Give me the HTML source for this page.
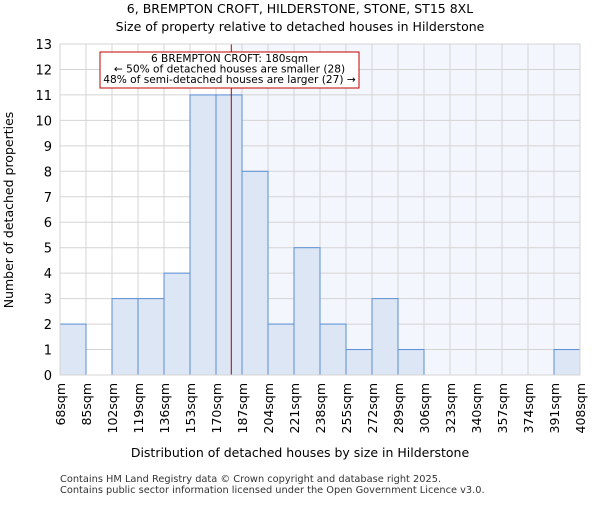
<!DOCTYPE html>
<html><head><meta charset="utf-8"><style>body{margin:0;background:#fff}svg{font-family:"DejaVu Sans","Liberation Sans",sans-serif}</style></head>
<body>
<svg id="chart" width="600" height="500" xmlns="http://www.w3.org/2000/svg">
<text x="300" y="13" text-anchor="middle" font-size="12.5">6, BREMPTON CROFT, HILDERSTONE, STONE, ST15 8XL</text>
<text x="300" y="31" text-anchor="middle" font-size="12.5">Size of property relative to detached houses in Hilderstone</text>
<g id="plot"></g>
<text x="300" y="457" text-anchor="middle" font-size="12.5">Distribution of detached houses by size in Hilderstone</text>
<text transform="translate(13,210) rotate(-90)" text-anchor="middle" font-size="12.5">Number of detached properties</text>
<text x="60" y="482" font-size="9.8" fill="#333">Contains HM Land Registry data © Crown copyright and database right 2025.</text>
<text x="60" y="493" font-size="9.8" fill="#333">Contains public sector information licensed under the Open Government Licence v3.0.</text>
</svg>
<script>
const binEdges=[68,85,102,119,136,153,170,187,204,221,238,255,272,289,306,323,340,357,374,391,408];
const counts=[2,0,3,3,4,11,11,8,2,5,2,1,3,1,0,0,0,0,0,1];
const yTicks=[0,1,2,3,4,5,6,7,8,9,10,11,12,13];
const markerValue=180;
const NS="http://www.w3.org/2000/svg";
const L=60,R=580,T=44,B=375;
const x=v=>L+(v-68)/(408-68)*(R-L);
const y=v=>B-v/13*(B-T);
const g=document.getElementById('plot');
function mk(t,a){const e=document.createElementNS(NS,t);for(const k in a)e.setAttribute(k,a[k]);g.appendChild(e);return e;}
let e;
e=mk('rect',{x:L,y:T,width:R-L,height:B-T,fill:'#fff'});


e=mk('rect',{x:x(markerValue),y:T,width:R-x(markerValue),height:B-T,fill:'#f3f6fd'});


yTicks.forEach(t=>{
 e=mk('line',{x1:L,x2:R,y1:y(t),y2:y(t),stroke:'#d4d4d4','stroke-width':1});
 
 
 e=mk('text',{x:L-8,y:y(t)+5,'text-anchor':'end','font-size':13});
 e.textContent=t;
 
 
});
binEdges.forEach(b=>{
 e=mk('line',{x1:x(b),x2:x(b),y1:T,y2:B,stroke:'#d4d4d4','stroke-width':1});
 
 
 e=mk('text',{transform:`translate(${x(b)+5},${B+8}) rotate(-90)`,'text-anchor':'end','font-size':12.5});
 e.textContent=b+'sqm';
 
 
});
counts.forEach((c,i)=>{
 if(!c)return;
 e=mk('rect',{x:x(binEdges[i]),y:y(c),width:x(binEdges[i+1])-x(binEdges[i]),height:B-y(c),fill:'#dce6f5',stroke:'#5b8fd4','stroke-width':1});
 
 
});
e=mk('line',{x1:x(markerValue),x2:x(markerValue),y1:T,y2:B,stroke:'#b00000','stroke-width':1});


e=mk('rect',{x:100,y:52,width:259,height:36,fill:'#fff',stroke:'#c00000','stroke-width':1});


["6 BREMPTON CROFT: 180sqm","← 50% of detached houses are smaller (28)","48% of semi-detached houses are larger (27) →"].forEach((s,i)=>{
 e=mk('text',{x:229.5,y:62+i*10.5,'text-anchor':'middle','font-size':10.6});
 e.textContent=s;
 
 
});
e=mk('rect',{x:L,y:T,width:R-L,height:B-T,fill:'none',stroke:'#d4d4d4'});


</script>
</body></html>
